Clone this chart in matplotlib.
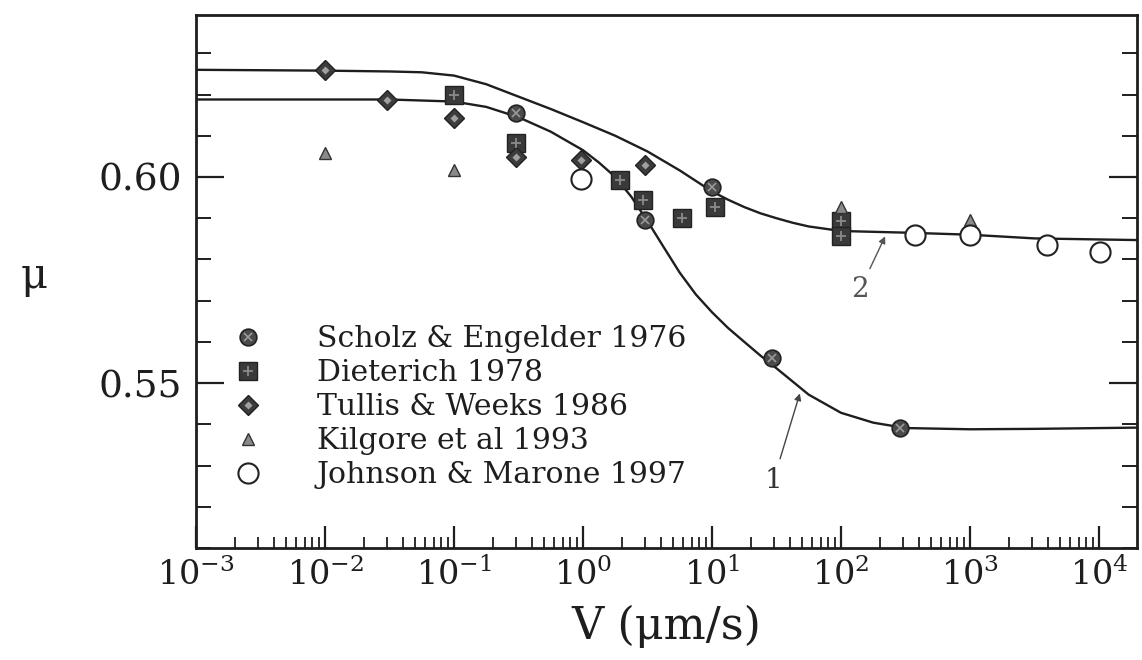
import matplotlib
matplotlib.use("Agg")
import matplotlib.pyplot as plt
from matplotlib.ticker import LogLocator, MultipleLocator, NullFormatter
from matplotlib.legend_handler import HandlerTuple

plt.rcParams['font.family'] = ['DejaVu Serif']
plt.rcParams['mathtext.fontset'] = 'dejavuserif'

# ---- data ----
# fitted curve 1 (lower) : velocity (um/s), friction
curve1_v = [1e-3, 3.16e-3, 1e-2, 0.0316, 0.1, 0.178, 0.316, 0.562, 1.0, 1.33, 1.78,
            2.37, 3.16, 4.22, 5.62, 7.50, 10.0, 13.3, 17.8, 23.7, 31.6, 56.2, 100.0,
            178.0, 316.0, 1000.0, 3162.0, 1.97e4]
curve1_mu = [0.6188, 0.6188, 0.6188, 0.6188, 0.6183, 0.6170, 0.6145, 0.6110, 0.6065,
             0.6035, 0.6000, 0.5952, 0.5893, 0.5830, 0.5768, 0.5715, 0.5672, 0.5634,
             0.5600, 0.5567, 0.5536, 0.5472, 0.5428, 0.5404, 0.5391, 0.5388, 0.5389,
             0.5392]
# fitted curve 2 (upper)
curve2_v = [1e-3, 3.16e-3, 1e-2, 0.0316, 0.0562, 0.1, 0.178, 0.316, 0.562, 1.0, 1.78,
            3.16, 5.62, 10.0, 13.3, 17.8, 23.7, 31.6, 42.2, 56.2, 100.0, 316.0, 1000.0,
            3162.0, 1.97e4]
curve2_mu = [0.6260, 0.6259, 0.6258, 0.6256, 0.6254, 0.6246, 0.6225, 0.6195, 0.6165,
             0.6133, 0.6100, 0.6062, 0.6016, 0.5965, 0.5945, 0.5927, 0.5912, 0.5900,
             0.5889, 0.5880, 0.5869, 0.5865, 0.5860, 0.5851, 0.5847]

scholz_v = [0.3, 3.0, 10.0, 29.0, 285.0]
scholz_mu = [0.6155, 0.5896, 0.5975, 0.5561, 0.5391]

dieterich_v = [0.1, 0.3, 1.95, 2.9, 5.9, 10.5, 100.0, 100.0]
dieterich_mu = [0.6199, 0.6083, 0.5993, 0.5944, 0.5900, 0.5927, 0.5893, 0.5856]

tullis_v = [0.01, 0.030, 0.1, 0.3, 0.96, 3.0]
tullis_mu = [0.6260, 0.6187, 0.6143, 0.6049, 0.6041, 0.6029]

kilgore_v = [0.01, 0.1, 100.0, 1000.0]
kilgore_mu = [0.6058, 0.6017, 0.5927, 0.5896]

johnson_v = [0.96, 375.0, 1000.0, 3950.0, 10200.0]
johnson_mu = [0.5995, 0.5859, 0.5859, 0.5835, 0.5818]

legend_labels = ["Scholz & Engelder 1976", "Dieterich 1978", "Tullis & Weeks 1986",
                 "Kilgore et al 1993", "Johnson & Marone 1997"]

x_ticks = [1e-3, 1e-2, 1e-1, 1e0, 1e1, 1e2, 1e3, 1e4]
x_ticklabels = [r"$10^{-3}$", r"$10^{-2}$", r"$10^{-1}$", r"$10^{0}$", r"$10^{1}$",
                r"$10^{2}$", r"$10^{3}$", r"$10^{4}$"]
y_ticks = [0.55, 0.60]
y_ticklabels = ["0.55", "0.60"]

# ---- figure ----
ink = '#1e1e1e'
fig = plt.figure(figsize=(11.42, 6.6), dpi=100)
ax = fig.add_axes([0.1716, 0.1697, 0.824, 0.8076])

ax.plot(curve1_v, curve1_mu, color=ink, lw=1.7, zorder=2)
ax.plot(curve2_v, curve2_mu, color=ink, lw=1.7, zorder=2)

h_s1, = ax.plot(scholz_v, scholz_mu, ls='none', marker='o', ms=12, mfc='#4a4a4a', mec='#222222', mew=1.2, zorder=4)
h_s2, = ax.plot(scholz_v, scholz_mu, ls='none', marker='x', ms=6, mec='#9a9a9a', mew=1.2, zorder=5)
h_d1, = ax.plot(dieterich_v, dieterich_mu, ls='none', marker='s', ms=12.5, mfc='#3a3a3a', mec='#222222', mew=1.0, zorder=4)
h_d2, = ax.plot(dieterich_v, dieterich_mu, ls='none', marker='+', ms=7, mec='#8a8a8a', mew=1.3, zorder=5)
h_t1, = ax.plot(tullis_v, tullis_mu, ls='none', marker='D', ms=10, mfc='#3c3c3c', mec='#222222', mew=1.0, zorder=4)
h_t2, = ax.plot(tullis_v, tullis_mu, ls='none', marker='D', ms=4, mfc='#a0a0a0', mec='none', zorder=5)
h_k, = ax.plot(kilgore_v, kilgore_mu, ls='none', marker='^', ms=9, mfc='#8a8a8a', mec='#333333', mew=1.0, zorder=4)
h_j, = ax.plot(johnson_v, johnson_mu, ls='none', marker='o', ms=14.5, mfc='white', mec='#222222', mew=1.5, zorder=4)

ax.set_xscale('log')
ax.set_xlim(1e-3, 1.97e4)
ax.set_ylim(0.510, 0.6393)

ax.set_xticks(x_ticks)
ax.set_xticklabels(x_ticklabels)
ax.xaxis.set_minor_locator(LogLocator(base=10, subs=[2, 3, 4, 5, 6, 7, 8, 9], numticks=20))
ax.xaxis.set_minor_formatter(NullFormatter())
ax.set_yticks(y_ticks)
ax.set_yticklabels(y_ticklabels)
ax.yaxis.set_minor_locator(MultipleLocator(0.01))

ax.tick_params(axis='both', which='both', direction='in', colors=ink, right=True, top=False)
ax.tick_params(axis='y', which='major', length=20, width=1.6, labelsize=27, pad=10)
ax.tick_params(axis='y', which='minor', length=11, width=1.4)
ax.tick_params(axis='x', which='major', length=16, width=1.6, labelsize=24, pad=7)
ax.tick_params(axis='x', which='minor', length=8, width=1.3)
for sp in ax.spines.values():
    sp.set_linewidth(2.0)
    sp.set_color(ink)

ax.set_xlabel("V (\u03bcm/s)", fontsize=32, color=ink, labelpad=9)
ax.set_ylabel("\u03bc", fontsize=30, color=ink, rotation=0)
ax.yaxis.set_label_coords(-0.172, 0.47)

leg = ax.legend([(h_s1, h_s2), (h_d1, h_d2), (h_t1, h_t2), h_k, h_j], legend_labels,
                handler_map={tuple: HandlerTuple(ndivide=1, pad=0)},
                loc='upper left', bbox_to_anchor=(0.025, 0.418), frameon=False,
                fontsize=21.5, labelspacing=0.2, handletextpad=1.35, borderpad=0,
                borderaxespad=0, handlelength=1.9, labelcolor=ink)

ax.annotate("1", xy=(48, 0.5475), xytext=(30, 0.5264), fontsize=20, color='#333333',
            ha='center', va='center',
            arrowprops=dict(arrowstyle='-|>', color='#444444', lw=1.0, shrinkA=4, shrinkB=0,
                            mutation_scale=10))
ax.annotate("2", xy=(220, 0.5856), xytext=(140, 0.5726), fontsize=20, color='#555555',
            ha='center', va='center',
            arrowprops=dict(arrowstyle='-|>', color='#555555', lw=1.0, shrinkA=4, shrinkB=0,
                            mutation_scale=10))

fig.savefig("out.png", dpi=100, facecolor='white')
